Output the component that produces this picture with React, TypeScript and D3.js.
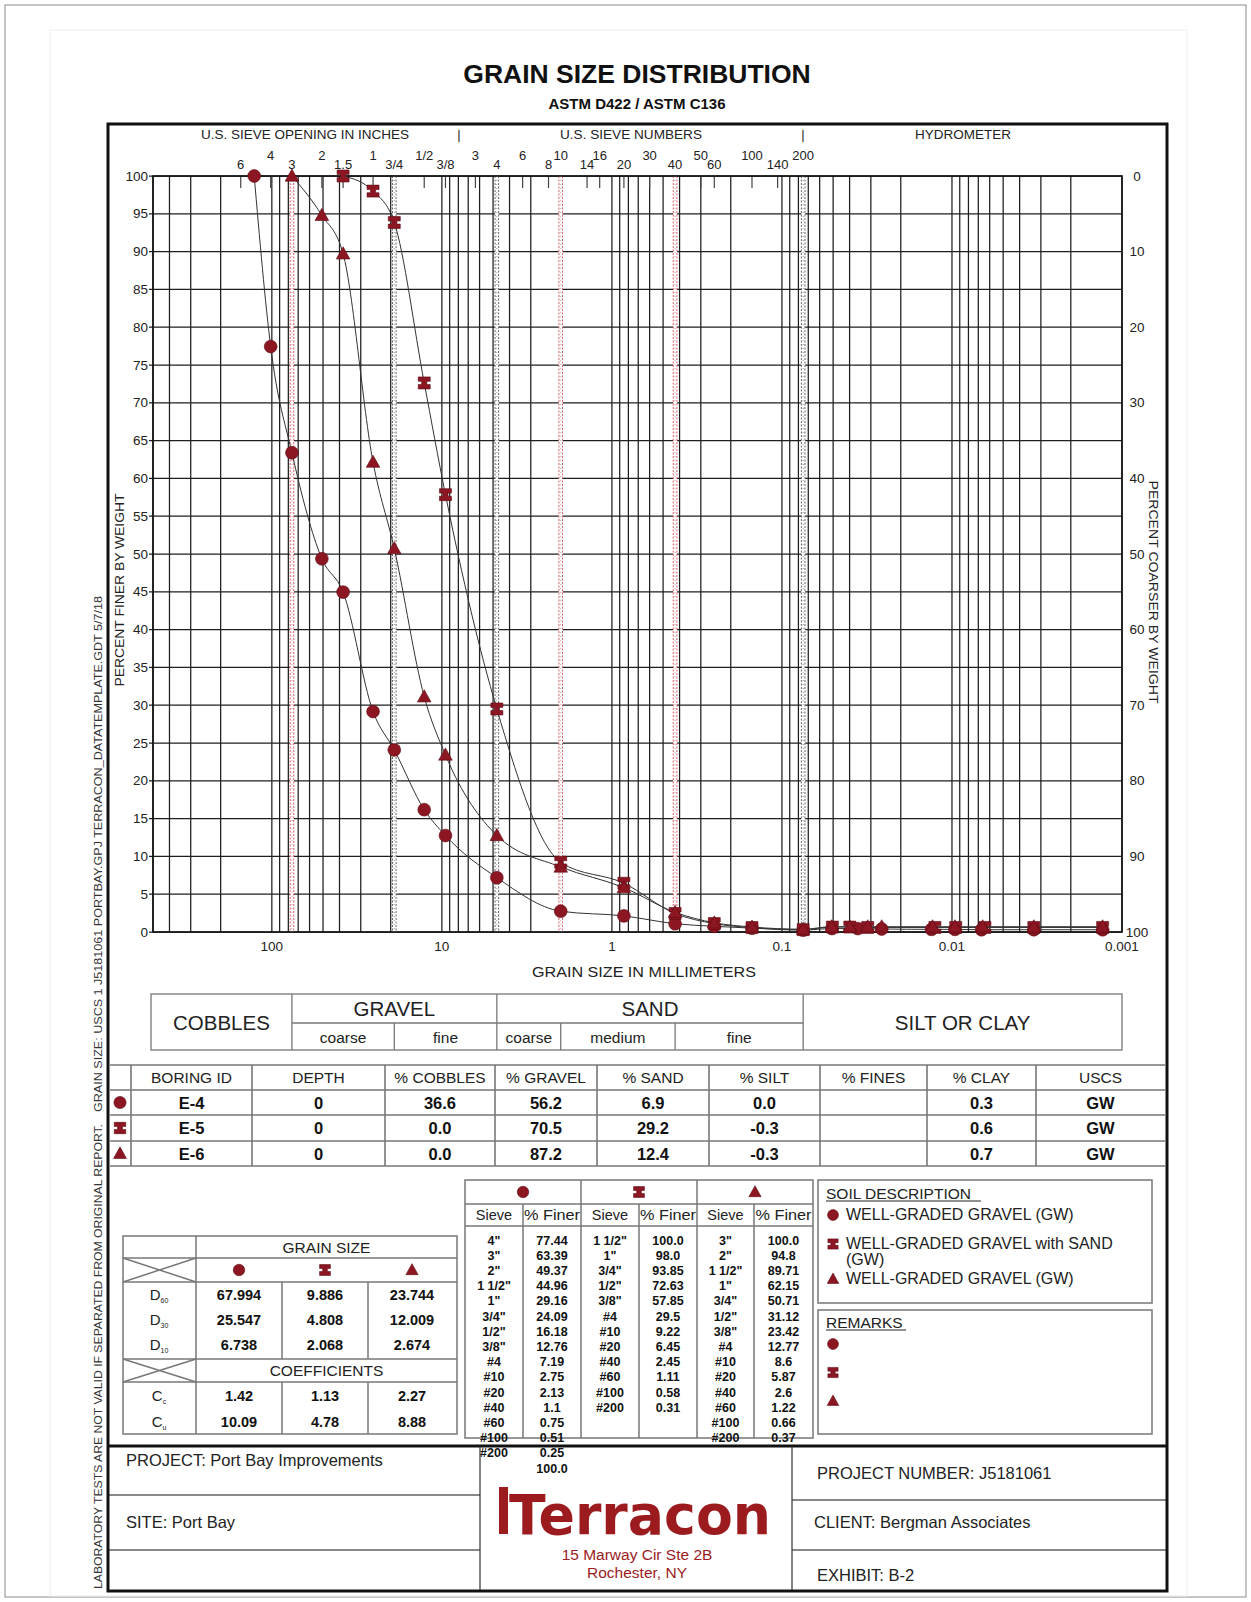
import React from 'react';
import * as d3 from 'd3';

const W = 1251;
const H = 1602;

// sieve openings marked along the top edge of the plot
const TOP_SIEVE_LABELS = ['6', '4', '3', '2', '1.5', '1', '3/4', '1/2', '3/8', '3', '4', '6', '8', '10', '14', '16', '20', '30', '40', '50', '60', '100', '140', '200'];
const TOP_SIEVE_MM = [152.4, 101.6, 76.2, 50.8, 38.1, 25.4, 19.05, 12.7, 9.525, 6.35, 4.75, 3.35, 2.36, 2.0, 1.4, 1.18, 0.85, 0.6, 0.425, 0.3, 0.25, 0.15, 0.106, 0.075];

// classification boundaries: 3", 3/4", #4, #10, #40, #200
const BOUNDARY_MM = [76.2, 19.05, 4.75, 2.0, 0.425, 0.075];
const BOUNDARY_RED = [true, false, false, true, true, false];

const X_LABEL_VALUES = [100, 10, 1, 0.1, 0.01, 0.001];
const X_LABEL_TEXT = ['100', '10', '1', '0.1', '0.01', '0.001'];

// sieve designation -> opening (mm)
const SIEVE_NAMES = ['5"', '4"', '3"', '2"', '1 1/2"', '1"', '3/4"', '1/2"', '3/8"', '#4', '#10', '#20', '#40', '#60', '#100', '#200'];
const SIEVE_OPENING_MM = [127, 101.6, 76.2, 50.8, 38.1, 25.4, 19.05, 12.7, 9.525, 4.75, 2.0, 0.85, 0.425, 0.25, 0.15, 0.075];

// E-4
const E4_LEAD_SIEVE = '5"';
const E4_LEAD_FINER = 100.0;
const E4_SIEVE = ['4"', '3"', '2"', '1 1/2"', '1"', '3/4"', '1/2"', '3/8"', '#4', '#10', '#20', '#40', '#60', '#100', '#200'];
const E4_FINER = [77.44, 63.39, 49.37, 44.96, 29.16, 24.09, 16.18, 12.76, 7.19, 2.75, 2.13, 1.1, 0.75, 0.51, 0.25];
const E4_HYD_MM = [0.0508, 0.0358, 0.0259, 0.0132, 0.0096, 0.0067, 0.0033, 0.0013];
const E4_HYD_FINER = [0.45, 0.45, 0.4, 0.35, 0.35, 0.3, 0.3, 0.3];

// E-5
const E5_SIEVE = ['1 1/2"', '1"', '3/4"', '1/2"', '3/8"', '#4', '#10', '#20', '#40', '#60', '#100', '#200'];
const E5_FINER = [100.0, 98.0, 93.85, 72.63, 57.85, 29.5, 9.22, 6.45, 2.45, 1.11, 0.58, 0.31];
const E5_HYD_MM = [0.0505, 0.0399, 0.0313, 0.0126, 0.0095, 0.0064, 0.0033, 0.0013];
const E5_HYD_FINER = [0.65, 0.65, 0.6, 0.6, 0.6, 0.6, 0.6, 0.6];

// E-6
const E6_SIEVE = ['3"', '2"', '1 1/2"', '1"', '3/4"', '1/2"', '3/8"', '#4', '#10', '#20', '#40', '#60', '#100', '#200'];
const E6_FINER = [100.0, 94.8, 89.71, 62.15, 50.71, 31.12, 23.42, 12.77, 8.6, 5.87, 2.6, 1.22, 0.66, 0.37];
const E6_HYD_MM = [0.051, 0.0399, 0.0313, 0.0259, 0.013, 0.0096, 0.0066, 0.0033, 0.0013];
const E6_HYD_FINER = [0.7, 0.7, 0.7, 0.7, 0.7, 0.7, 0.7, 0.7, 0.7];

// summary table
const BORING_IDS = ['E-4', 'E-5', 'E-6'];
const DEPTHS = ['0', '0', '0'];
const PCT_COBBLES = ['36.6', '0.0', '0.0'];
const PCT_GRAVEL = ['56.2', '70.5', '87.2'];
const PCT_SAND = ['6.9', '29.2', '12.4'];
const PCT_SILT = ['0.0', '-0.3', '-0.3'];
const PCT_FINES = ['', '', ''];
const PCT_CLAY = ['0.3', '0.6', '0.7'];
const USCS = ['GW', 'GW', 'GW'];
const SUMMARY_HEADERS = ['BORING ID', 'DEPTH', '% COBBLES', '% GRAVEL', '% SAND', '% SILT', '% FINES', '% CLAY', 'USCS'];

// grain size parameters
const D60 = ['67.994', '9.886', '23.744'];
const D30 = ['25.547', '4.808', '12.009'];
const D10 = ['6.738', '2.068', '2.674'];
const CC = ['1.42', '1.13', '2.27'];
const CU = ['10.09', '4.78', '8.88'];

const SOIL_DESCRIPTIONS = [['WELL-GRADED GRAVEL (GW)'], ['WELL-GRADED GRAVEL with SAND', '(GW)'], ['WELL-GRADED GRAVEL (GW)']];

const KINDS = ['circle', 'ibeam', 'tri'];

const RED = '#8c1622';
const FONT = "'Liberation Sans', Arial, sans-serif";

// plot frame
const PL = 153;
const PR = 1122;
const PT = 176;
const PB = 932;

const openingOf = (name: string) => SIEVE_OPENING_MM[SIEVE_NAMES.indexOf(name)];

function Marker({ kind, x, y, s = 1 }: { kind: string; x: number; y: number; s?: number }) {
  if (kind === 'circle') {
    return <circle cx={x} cy={y} r={6.4 * s} fill={RED} stroke="#5e0c14" strokeWidth={0.6} />;
  }
  if (kind === 'tri') {
    const d = `M${x},${y - 7 * s} L${x + 6.8 * s},${y + 5.2 * s} L${x - 6.8 * s},${y + 5.2 * s} Z`;
    return <path d={d} fill={RED} stroke="#5e0c14" strokeWidth={0.6} />;
  }
  const a = 6 * s;
  const n = 1.6 * s;
  const st = 2.6 * s;
  const d = `M${x - a},${y - a} H${x + a} V${y - n} H${x + st} V${y + n} H${x + a} V${y + a} H${x - a} V${y + n} H${x - st} V${y - n} H${x - a} Z`;
  return <path d={d} fill={RED} stroke="#5e0c14" strokeWidth={0.6} />;
}

export default function App() {
  const x = d3.scaleLog().domain([500, 0.001]).range([PL, PR]);
  const y = d3.scaleLinear().domain([0, 100]).range([PB, PT]);
  const gridX = x.ticks();
  const gridY = d3.range(0, 101, 5);
  const coarserTicks = d3.range(0, 101, 10);

  const series = [
    {
      kind: 'circle',
      pts: [[openingOf(E4_LEAD_SIEVE), E4_LEAD_FINER]]
        .concat(E4_SIEVE.map((s, i) => [openingOf(s), E4_FINER[i]]))
        .concat(E4_HYD_MM.map((m, i) => [m, E4_HYD_FINER[i]])),
    },
    {
      kind: 'ibeam',
      pts: E5_SIEVE.map((s, i) => [openingOf(s), E5_FINER[i]]).concat(E5_HYD_MM.map((m, i) => [m, E5_HYD_FINER[i]])),
    },
    {
      kind: 'tri',
      pts: E6_SIEVE.map((s, i) => [openingOf(s), E6_FINER[i]]).concat(E6_HYD_MM.map((m, i) => [m, E6_HYD_FINER[i]])),
    },
  ];

  const line = d3
    .line<number[]>()
    .x((d) => x(d[0]))
    .y((d) => y(d[1]))
    .curve(d3.curveMonotoneX);

  // summary table geometry
  const sumCols = [110, 131, 252, 385, 495, 597, 709, 820, 927, 1036, 1165];
  const sumRows = [1065, 1090, 1115, 1141, 1166];
  const sumValues = [BORING_IDS, DEPTHS, PCT_COBBLES, PCT_GRAVEL, PCT_SAND, PCT_SILT, PCT_FINES, PCT_CLAY, USCS];

  // sieve table geometry
  const stGroups = [465, 581, 697, 813];
  const stSplit = [523, 639, 754];
  const stTop = 1180;
  const stBottom = 1438;
  const rowY0 = 1240;
  const rowStep = 15.2;
  const sieveTables = [
    { names: E4_SIEVE.concat(['']), finer: E4_FINER.map((v) => v.toString()).concat([E4_LEAD_FINER.toFixed(1)]) },
    { names: E5_SIEVE, finer: E5_FINER.map((v, i) => (i < 2 ? v.toFixed(1) : v.toString())) },
    { names: E6_SIEVE, finer: E6_FINER.map((v, i) => (i === 0 ? v.toFixed(1) : v.toString())) },
  ];

  // grain size table geometry
  const gsL = 123;
  const gsR = 457;
  const gsCols = [196, 282, 368];
  const gsCenters = [239, 325, 412];

  const bx = (v: number) => x(v);

  return (
    <svg
      width={W}
      height={H}
      viewBox={`0 0 ${W} ${H}`}
      style={{ position: 'absolute', left: 0, top: 0, background: '#fff' }}
      fontFamily={FONT}
    >
      <rect x={0} y={0} width={W} height={H} fill="#fff" />
      <rect x={5} y={5} width={1241} height={1592} fill="none" stroke="#8a8a8a" strokeWidth={1} />
      <rect x={50} y={30} width={1137} height={1566} fill="none" stroke="#eeeeee" strokeWidth={1} />

      {/* title */}
      <text x={637} y={83} textAnchor="middle" fontSize={26.5} fontWeight="bold" fill="#111">GRAIN SIZE DISTRIBUTION</text>
      <text x={637} y={109} textAnchor="middle" fontSize={15} fontWeight="bold" fill="#111">ASTM D422 / ASTM C136</text>

      {/* upper axis headings */}
      <g fontSize={13} fill="#222">
        <text x={305} y={139} textAnchor="middle" textLength={208} lengthAdjust="spacingAndGlyphs">U.S. SIEVE OPENING IN INCHES</text>
        <text x={459} y={139} textAnchor="middle">|</text>
        <text x={631} y={139} textAnchor="middle" textLength={142} lengthAdjust="spacingAndGlyphs">U.S. SIEVE NUMBERS</text>
        <text x={803} y={139} textAnchor="middle">|</text>
        <text x={963} y={139} textAnchor="middle" textLength={96} lengthAdjust="spacingAndGlyphs">HYDROMETER</text>
      </g>

      {/* sieve size labels, staggered */}
      <g fontSize={13} fill="#222">
        {TOP_SIEVE_MM.map((m, i) => (
          <text key={`sl${i}`} x={x(m)} y={i % 2 === 0 ? 169 : 160} textAnchor="middle">
            {TOP_SIEVE_LABELS[i]}
          </text>
        ))}
      </g>

      {/* grid */}
      <g stroke="#1e1e1e" strokeWidth={1.25}>
        {gridX.map((v, i) => (
          <line key={`gx${i}`} x1={x(v)} x2={x(v)} y1={PT} y2={PB} />
        ))}
        {gridY.map((v) => (
          <line key={`gy${v}`} x1={PL - 4} x2={PR} y1={y(v)} y2={y(v)} />
        ))}
      </g>

      {/* sieve ticks at top */}
      <g stroke="#444" strokeWidth={1.2}>
        {TOP_SIEVE_MM.map((m, i) => (
          <line key={`st${i}`} x1={x(m)} x2={x(m)} y1={PT} y2={PT + 12} />
        ))}
      </g>

      {/* boundary lines */}
      {BOUNDARY_MM.map((m, i) => {
        const c = BOUNDARY_RED[i] ? '#d2505e' : '#555';
        const cx = x(m);
        return (
          <g key={`bd${i}`}>
            <rect x={cx - 2} y={PT} width={4} height={PB - PT} fill="#fff" />
            <line x1={cx - 1.8} x2={cx - 1.8} y1={PT} y2={PB} stroke={c} strokeWidth={0.9} strokeDasharray="2 1.5" />
            <line x1={cx + 1.8} x2={cx + 1.8} y1={PT} y2={PB} stroke={c} strokeWidth={0.9} strokeDasharray="2 1.5" />
            <line x1={cx} x2={cx} y1={PT} y2={PB} stroke={c} strokeWidth={0.6} strokeDasharray="1 3" />
          </g>
        );
      })}

      {/* plot border */}
      <rect x={PL} y={PT} width={PR - PL} height={PB - PT} fill="none" stroke="#111" strokeWidth={1.6} />

      {/* axis labels */}
      <g fontSize={13.5} fill="#222">
        {gridY.map((v) => (
          <text key={`yl${v}`} x={148} y={y(v) + 4.5} textAnchor="end">{v}</text>
        ))}
        {coarserTicks.map((v) => (
          <text key={`yr${v}`} x={1137} y={y(100 - v) + 4.5} textAnchor="middle">{v}</text>
        ))}
        {X_LABEL_VALUES.map((v, i) => (
          <text key={`xl${i}`} x={x(v)} y={951} textAnchor="middle">{X_LABEL_TEXT[i]}</text>
        ))}
      </g>

      <text x={644} y={977} textAnchor="middle" fontSize={14.5} fill="#222" textLength={224} lengthAdjust="spacingAndGlyphs">GRAIN SIZE IN MILLIMETERS</text>
      <text transform={`translate(124,590) rotate(-90)`} textAnchor="middle" fontSize={12.5} fill="#222" textLength={193} lengthAdjust="spacingAndGlyphs">PERCENT FINER BY WEIGHT</text>
      <text transform={`translate(1149,592) rotate(90)`} textAnchor="middle" fontSize={12.5} fill="#222" textLength={223} lengthAdjust="spacingAndGlyphs">PERCENT COARSER BY WEIGHT</text>

      {/* gradation curves */}
      {series.map((s, i) => (
        <path key={`c${i}`} d={line(s.pts) || ''} fill="none" stroke="#333" strokeWidth={1} />
      ))}
      {series.map((s, i) => (
        <g key={`m${i}`}>
          {s.pts.map((p, j) => (
            <Marker key={j} kind={s.kind} x={x(p[0])} y={y(p[1])} />
          ))}
        </g>
      ))}

      {/* soil classification band */}
      <g stroke="#777" strokeWidth={1.3} fill="none">
        <rect x={151} y={994} width={PR - 151} height={56} />
        <line x1={bx(76.2)} x2={bx(76.2)} y1={994} y2={1050} />
        <line x1={bx(4.75)} x2={bx(4.75)} y1={994} y2={1050} />
        <line x1={bx(0.075)} x2={bx(0.075)} y1={994} y2={1050} />
        <line x1={bx(76.2)} x2={bx(0.075)} y1={1023} y2={1023} />
        <line x1={bx(19.05)} x2={bx(19.05)} y1={1023} y2={1050} />
        <line x1={bx(2.0)} x2={bx(2.0)} y1={1023} y2={1050} />
        <line x1={bx(0.425)} x2={bx(0.425)} y1={1023} y2={1050} />
      </g>
      <g fill="#222" fontSize={20.5} textAnchor="middle">
        <text x={(151 + bx(76.2)) / 2} y={1030}>COBBLES</text>
        <text x={(bx(76.2) + bx(4.75)) / 2} y={1016}>GRAVEL</text>
        <text x={(bx(4.75) + bx(0.075)) / 2} y={1016}>SAND</text>
        <text x={(bx(0.075) + PR) / 2} y={1030}>SILT OR CLAY</text>
      </g>
      <g fill="#222" fontSize={15.5} textAnchor="middle">
        <text x={(bx(76.2) + bx(19.05)) / 2} y={1043}>coarse</text>
        <text x={(bx(19.05) + bx(4.75)) / 2} y={1043}>fine</text>
        <text x={(bx(4.75) + bx(2.0)) / 2} y={1043}>coarse</text>
        <text x={(bx(2.0) + bx(0.425)) / 2} y={1043}>medium</text>
        <text x={(bx(0.425) + bx(0.075)) / 2} y={1043}>fine</text>
      </g>

      {/* summary table */}
      <g stroke="#777" strokeWidth={1.6}>
        {sumRows.map((r, i) => (
          <line key={`sr${i}`} x1={110} x2={1165} y1={r} y2={r} />
        ))}
        {sumCols.slice(1, -1).map((c, i) => (
          <line key={`sc${i}`} x1={c} x2={c} y1={sumRows[0]} y2={sumRows[4]} />
        ))}
      </g>
      <g fontSize={15.5} fill="#222" textAnchor="middle">
        {SUMMARY_HEADERS.map((h, i) => (
          <text key={`sh${i}`} x={(sumCols[i + 1] + sumCols[i + 2]) / 2} y={1083}>{h}</text>
        ))}
      </g>
      <g fontSize={16.5} fontWeight="bold" fill="#111" textAnchor="middle">
        {sumValues.map((col, ci) =>
          col.map((v, ri) => (
            <text key={`sv${ci}-${ri}`} x={(sumCols[ci + 1] + sumCols[ci + 2]) / 2} y={sumRows[ri + 1] + 18.5}>{v}</text>
          ))
        )}
      </g>
      {KINDS.map((k, i) => (
        <Marker key={`sm${i}`} kind={k} x={120} y={(sumRows[i + 1] + sumRows[i + 2]) / 2} s={0.95} />
      ))}

      {/* grain size / coefficient table */}
      <g stroke="#777" strokeWidth={1.5} fill="none">
        <rect x={gsL} y={1236} width={gsR - gsL} height={198} />
        <line x1={gsL} x2={gsR} y1={1258} y2={1258} />
        <line x1={gsL} x2={gsR} y1={1282} y2={1282} />
        <line x1={gsL} x2={gsR} y1={1359} y2={1359} />
        <line x1={gsL} x2={gsR} y1={1382} y2={1382} />
        <line x1={gsCols[0]} x2={gsCols[0]} y1={1236} y2={1434} />
        {[gsCols[1], gsCols[2]].map((c) => (
          <g key={`gv${c}`}>
            <line x1={c} x2={c} y1={1282} y2={1359} />
            <line x1={c} x2={c} y1={1382} y2={1434} />
          </g>
        ))}
        <line x1={gsL} x2={gsCols[0]} y1={1258} y2={1282} />
        <line x1={gsL} x2={gsCols[0]} y1={1282} y2={1258} />
        <line x1={gsL} x2={gsCols[0]} y1={1359} y2={1382} />
        <line x1={gsL} x2={gsCols[0]} y1={1382} y2={1359} />
      </g>
      <text x={(gsCols[0] + gsR) / 2} y={1253} textAnchor="middle" fontSize={15.5} fill="#222">GRAIN SIZE</text>
      <text x={(gsCols[0] + gsR) / 2} y={1376} textAnchor="middle" fontSize={15.5} fill="#222">COEFFICIENTS</text>
      {KINDS.map((k, i) => (
        <Marker key={`gm${i}`} kind={k} x={gsCenters[i]} y={1270} s={0.9} />
      ))}
      <g fontSize={15} fill="#222" textAnchor="middle">
        {[
          ['D', '60', 1300],
          ['D', '30', 1325],
          ['D', '10', 1350],
          ['C', 'c', 1401],
          ['C', 'u', 1427],
        ].map((r, i) => (
          <text key={`gl${i}`} x={159} y={r[2] as number}>
            {r[0]}
            <tspan fontSize={7} dy={3}>{r[1]}</tspan>
          </text>
        ))}
      </g>
      <g fontSize={14.5} fontWeight="bold" fill="#111" textAnchor="middle">
        {[D60, D30, D10].map((arr, ri) =>
          arr.map((v, ci) => (
            <text key={`dv${ri}-${ci}`} x={gsCenters[ci]} y={1300 + ri * 25}>{v}</text>
          ))
        )}
        {[CC, CU].map((arr, ri) =>
          arr.map((v, ci) => (
            <text key={`cv${ri}-${ci}`} x={gsCenters[ci]} y={1401 + ri * 26}>{v}</text>
          ))
        )}
      </g>

      {/* sieve data table */}
      <g stroke="#777" strokeWidth={1.5} fill="none">
        <rect x={stGroups[0]} y={stTop} width={stGroups[3] - stGroups[0]} height={stBottom - stTop} />
        <line x1={stGroups[0]} x2={stGroups[3]} y1={1204} y2={1204} />
        <line x1={stGroups[0]} x2={stGroups[3]} y1={1226} y2={1226} />
        {[stGroups[1], stGroups[2]].map((c) => (
          <line key={`sg${c}`} x1={c} x2={c} y1={stTop} y2={stBottom} />
        ))}
        {stSplit.map((c) => (
          <line key={`ss${c}`} x1={c} x2={c} y1={1204} y2={stBottom} />
        ))}
      </g>
      {KINDS.map((k, i) => (
        <Marker key={`tm${i}`} kind={k} x={(stGroups[i] + stGroups[i + 1]) / 2} y={1192} s={0.9} />
      ))}
      <g fontSize={14.5} fill="#222" textAnchor="middle">
        {[0, 1, 2].map((g) => (
          <g key={`sth${g}`}>
            <text x={(stGroups[g] + stSplit[g]) / 2} y={1220}>Sieve</text>
            <text x={(stSplit[g] + stGroups[g + 1]) / 2} y={1220} textLength={56} lengthAdjust="spacingAndGlyphs">% Finer</text>
          </g>
        ))}
      </g>
      <g fontSize={12.5} fontWeight="bold" fill="#111" textAnchor="middle">
        {sieveTables.map((t, g) => (
          <g key={`sd${g}`}>
            {t.names.map((n, r) => (
              <text key={`n${r}`} x={(stGroups[g] + stSplit[g]) / 2} y={rowY0 + r * rowStep + 4.5}>{n}</text>
            ))}
            {t.finer.map((v, r) => (
              <text key={`f${r}`} x={(stSplit[g] + stGroups[g + 1]) / 2} y={rowY0 + r * rowStep + 4.5}>{v}</text>
            ))}
          </g>
        ))}
      </g>

      {/* soil description and remarks */}
      <g stroke="#777" strokeWidth={1.5} fill="none">
        <rect x={818} y={1180} width={334} height={123} />
        <rect x={818} y={1310} width={334} height={124} />
      </g>
      <text x={826} y={1199} fontSize={15.5} fill="#222">SOIL DESCRIPTION</text>
      <line x1={826} x2={981} y1={1201} y2={1201} stroke="#222" strokeWidth={1} />
      {SOIL_DESCRIPTIONS.map((lines, i) => {
        const yy = [1220, 1249, 1284][i];
        return (
          <g key={`sd${i}`}>
            <Marker kind={KINDS[i]} x={833} y={yy - 5} s={0.85} />
            {lines.map((l, j) => (
              <text key={j} x={846} y={yy + j * 16} fontSize={16} fill="#222">{l}</text>
            ))}
          </g>
        );
      })}
      <text x={826} y={1328} fontSize={15.5} fill="#222">REMARKS</text>
      <line x1={826} x2={906} y1={1330} y2={1330} stroke="#222" strokeWidth={1} />
      {KINDS.map((k, i) => (
        <Marker key={`rm${i}`} kind={k} x={833} y={1344 + i * 28.5} s={0.85} />
      ))}

      {/* title block */}
      <line x1={108} x2={1167} y1={1446} y2={1446} stroke="#111" strokeWidth={3} />
      <g stroke="#888" strokeWidth={2}>
        <line x1={108} x2={480} y1={1495} y2={1495} />
        <line x1={108} x2={480} y1={1550} y2={1550} />
        <line x1={792} x2={1167} y1={1500} y2={1500} />
        <line x1={792} x2={1167} y1={1550} y2={1550} />
      </g>
      <g stroke="#333" strokeWidth={1.2}>
        <line x1={480} x2={480} y1={1446} y2={1591} />
        <line x1={792} x2={792} y1={1446} y2={1591} />
      </g>
      <g fontSize={16.5} fill="#222">
        <text x={126} y={1466}>PROJECT:  Port Bay Improvements</text>
        <text x={126} y={1528}>SITE:  Port Bay</text>
        <text x={817} y={1479}>PROJECT NUMBER:  J5181061</text>
        <text x={814} y={1528}>CLIENT:  Bergman Associates</text>
        <text x={817} y={1581}>EXHIBIT:  B-2</text>
      </g>
      <text x={640} y={1534} textAnchor="middle" fontFamily="'DejaVu Sans', sans-serif" fontWeight="bold" fontSize={56} fill="#9b1b1f" textLength={262} lengthAdjust="spacingAndGlyphs">Terracon</text>
      <rect x={499} y={1487} width={9} height={47} fill="#9b1b1f" />
      <text x={637} y={1560} textAnchor="middle" fontSize={15.5} fill="#9b1b1f">15 Marway Cir Ste 2B</text>
      <text x={637} y={1578} textAnchor="middle" fontSize={15.5} fill="#9b1b1f">Rochester, NY</text>

      {/* outer frame */}
      <rect x={108} y={124} width={1059} height={1467} fill="none" stroke="#111" strokeWidth={3} />

      {/* side note */}
      <g fontSize={10} fill="#333">
        <text transform="translate(102,1589) rotate(-90)" textLength={465} lengthAdjust="spacingAndGlyphs">LABORATORY TESTS ARE NOT VALID IF SEPARATED FROM ORIGINAL REPORT.</text>
        <text transform="translate(102,1112) rotate(-90)" textLength={516} lengthAdjust="spacingAndGlyphs">GRAIN SIZE: USCS 1  J5181061 PORTBAY.GPJ  TERRACON_DATATEMPLATE.GDT  5/7/18</text>
      </g>
    </svg>
  );
}
